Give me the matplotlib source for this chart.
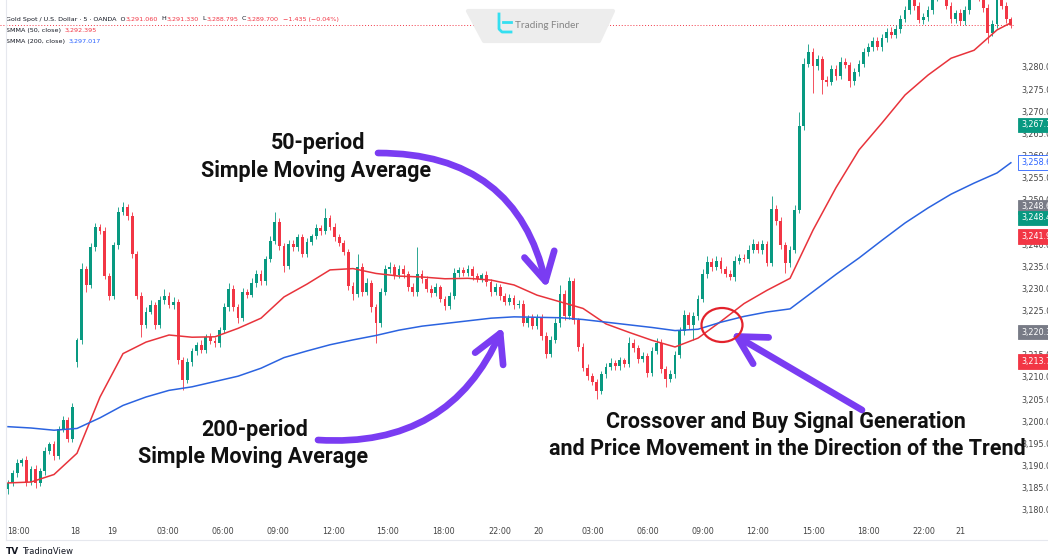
import numpy as np
import matplotlib.pyplot as plt
from matplotlib.patches import FancyArrowPatch, Ellipse, Polygon
from matplotlib.lines import Line2D

# ---------------- data ----------------
first_open = 3185.0
gap_opens = {15: 3213.5}

closes = [
    3186.3, 3188.5, 3190.8, 3191.5, 3186.5, 3189.5, 3186.2, 3189.0, 3193.5, 3195.0,
    3192.3, 3198.5, 3200.5, 3196.2, 3203.5, 3218.5, 3234.5, 3231.0, 3239.5, 3244.0,
    3243.2, 3233.0, 3228.5, 3240.0, 3247.5, 3248.5, 3246.5, 3238.0, 3228.5, 3222.0,
    3225.0, 3226.5, 3222.0, 3227.5, 3228.5, 3226.5, 3227.2, 3214.0, 3209.5, 3213.5,
    3216.0, 3217.5, 3216.3, 3219.3, 3218.4, 3217.8, 3220.8, 3226.0, 3230.2, 3226.0,
    3223.5, 3229.5, 3228.8, 3231.5, 3233.5, 3231.8, 3236.8, 3241.0, 3245.3, 3239.8,
    3235.2, 3240.2, 3239.5, 3241.8, 3238.0, 3240.8, 3242.0, 3243.8, 3243.2, 3246.2,
    3244.0, 3241.8, 3240.5, 3238.5, 3230.8, 3229.0, 3235.0, 3229.5, 3231.5, 3226.0,
    3222.4, 3229.5, 3234.5, 3235.0, 3233.2, 3234.6, 3233.5, 3230.5, 3229.3, 3233.5,
    3232.3, 3230.2, 3229.2, 3230.5, 3227.8, 3226.3, 3228.5, 3233.8, 3234.3, 3233.8,
    3234.5, 3233.0, 3232.4, 3233.2, 3231.6, 3229.4, 3230.5, 3228.5, 3227.2, 3228.0,
    3226.5, 3226.8, 3222.5, 3223.5, 3221.8, 3223.8, 3219.5, 3215.5, 3218.5, 3222.5,
    3229.0, 3224.0, 3231.8, 3223.0, 3217.0, 3212.3, 3210.5, 3209.2, 3207.0, 3210.8,
    3212.5, 3213.4, 3212.6, 3214.0, 3213.2, 3217.8, 3216.8, 3214.2, 3215.0, 3211.2,
    3216.2, 3218.0, 3212.0, 3209.8, 3210.8, 3215.2, 3220.5, 3224.2, 3222.0, 3224.0,
    3227.8, 3233.5, 3236.2, 3235.0, 3236.5, 3234.5, 3233.5, 3232.8, 3236.5, 3237.2,
    3236.8, 3239.0, 3240.2, 3239.0, 3240.3, 3236.0, 3248.2, 3245.5, 3240.0, 3236.0,
    3239.0, 3248.0, 3267.0, 3281.0, 3283.5, 3280.5, 3282.0, 3277.2, 3276.8, 3279.8,
    3278.2, 3281.4, 3280.6, 3277.0, 3279.2, 3281.0, 3283.5, 3284.8, 3286.0, 3284.7,
    3286.8, 3288.2, 3287.5, 3288.8, 3291.0, 3293.0, 3296.5, 3294.0, 3290.8, 3291.5,
    3293.0, 3296.0, 3297.5, 3296.8, 3294.0, 3291.0, 3292.4, 3290.5, 3293.0, 3296.2,
    3297.5, 3296.0, 3293.5, 3288.0, 3290.0, 3296.0, 3294.0, 3291.0, 3289.7]

wick_up = [
    0.6, 0.8, 1.0, 0.5, 0.9, 0.6, 0.8, 0.7, 0.9, 0.6,
    0.8, 0.7, 1.0, 0.6, 0.8, 0.5, 1.5, 0.8, 0.9, 1.0,
    0.7, 0.9, 0.6, 0.8, 1.0, 1.3, 0.7, 0.9, 0.6, 0.8,
    1.0, 1.2, 0.7, 0.9, 1.5, 0.8, 1.0, 0.6, 0.7, 0.9,
    0.8, 0.6, 1.0, 0.7, 0.9, 0.8, 0.6, 1.0, 1.3, 0.7,
    0.8, 0.9, 0.7, 1.0, 0.8, 0.9, 0.7, 1.0, 2.2, 0.8,
    0.6, 0.9, 1.0, 0.7, 0.8, 0.9, 0.6, 1.0, 0.8, 2.2,
    0.7, 0.9, 0.8, 0.6, 0.7, 0.8, 3.0, 0.9, 1.0, 0.7,
    0.6, 0.8, 0.9, 1.2, 0.7, 0.8, 1.0, 0.6, 0.9, 6.0,
    0.8, 0.7, 0.9, 1.0, 0.6, 0.8, 0.9, 1.0, 0.7, 0.8,
    0.9, 0.7, 0.8, 0.6, 0.9, 0.8, 1.0, 0.7, 0.6, 0.9,
    0.8, 0.7, 0.9, 0.8, 1.0, 0.7, 0.6, 0.8, 0.9, 1.0,
    2.0, 0.8, 1.0, 0.7, 0.6, 0.8, 0.9, 0.7, 0.6, 0.8,
    0.9, 1.0, 0.7, 0.8, 0.6, 1.5, 0.9, 0.7, 0.8, 0.6,
    0.9, 1.0, 0.8, 0.7, 0.9, 0.8, 1.0, 1.2, 0.8, 0.9,
    1.0, 1.2, 1.4, 0.9, 1.0, 0.8, 0.7, 0.9, 1.0, 0.8,
    0.9, 1.0, 1.1, 0.8, 0.9, 0.7, 2.8, 0.9, 0.8, 0.7,
    0.9, 1.0, 3.0, 1.2, 2.0, 1.0, 0.9, 0.8, 1.0, 0.9,
    0.8, 1.0, 0.9, 0.7, 0.8, 0.9, 1.0, 0.8, 0.9, 1.0,
    0.8, 0.9, 1.0, 0.8, 1.0, 0.9, 1.2, 0.8, 0.9, 1.0,
    1.1, 0.9, 1.0, 0.8, 0.9, 1.0, 0.8, 0.9, 1.0, 0.9,
    1.0, 0.8, 0.9, 1.0, 0.8, 1.2, 0.9, 0.8, 0.5]

wick_dn = [
    1.3, 0.7, 0.8, 0.6, 0.9, 0.7, 1.0, 0.6, 0.8, 0.7,
    0.9, 0.6, 0.8, 0.7, 0.6, 1.0, 0.8, 1.5, 0.7, 0.9,
    0.8, 0.7, 1.0, 0.6, 0.8, 0.7, 0.9, 0.8, 0.7, 2.7,
    0.8, 0.6, 0.9, 0.7, 0.8, 0.6, 0.9, 0.8, 2.2, 0.7,
    0.8, 0.9, 0.6, 0.7, 0.8, 0.9, 0.7, 0.6, 0.8, 0.9,
    1.0, 0.7, 0.8, 0.6, 0.9, 0.8, 0.7, 0.6, 0.8, 0.9,
    1.2, 0.7, 0.8, 0.9, 0.7, 0.6, 0.8, 0.7, 0.9, 0.8,
    0.7, 0.9, 0.8, 0.7, 0.9, 1.4, 0.8, 0.9, 0.7, 1.0,
    4.4, 0.8, 0.7, 0.9, 0.8, 0.7, 0.9, 0.8, 0.7, 0.9,
    0.8, 0.7, 0.9, 0.8, 0.7, 0.9, 0.8, 0.7, 0.9, 0.8,
    0.7, 0.9, 0.8, 0.7, 0.9, 0.8, 0.7, 0.9, 0.8, 0.7,
    0.9, 0.8, 0.7, 0.9, 0.8, 0.7, 0.9, 1.0, 0.8, 0.7,
    0.9, 0.8, 0.7, 0.9, 0.8, 0.7, 0.9, 0.8, 1.8, 0.7,
    0.9, 0.8, 0.7, 0.9, 0.8, 0.7, 0.9, 0.8, 0.7, 0.9,
    0.8, 0.7, 0.9, 1.8, 0.7, 0.9, 0.8, 0.7, 0.9, 3.4,
    0.8, 0.7, 0.9, 0.8, 0.7, 0.9, 0.8, 0.7, 0.9, 0.8,
    0.7, 0.9, 0.8, 0.7, 0.9, 0.8, 0.7, 0.9, 0.8, 2.3,
    0.9, 0.8, 0.7, 0.9, 0.8, 6.1, 0.9, 3.0, 0.8, 0.7,
    0.9, 0.8, 0.7, 1.3, 0.8, 0.9, 0.7, 0.8, 0.9, 0.7,
    0.8, 0.9, 0.7, 0.8, 0.9, 0.7, 0.8, 0.9, 0.7, 0.8,
    0.9, 0.7, 0.8, 0.9, 0.7, 0.8, 0.9, 0.7, 0.8, 0.9,
    0.7, 0.8, 0.9, 2.4, 0.8, 0.9, 0.7, 0.8, 0.6]

# moving averages, sampled every 5 bars (plus the last bar)
sma_bars = list(range(0, 216, 5)) + [218]
sma50 = [3186.3, 3186.5, 3188.2, 3193.0, 3205.7, 3215.5, 3218.1, 3219.7, 3219.2, 3219.3,
         3221.2, 3223.5, 3228.3, 3231.2, 3234.4, 3234.7, 3233.6, 3233.0, 3232.8, 3232.4,
         3232.5, 3232.1, 3231.0, 3228.7, 3227.2, 3225.7, 3222.2, 3220.3, 3218.5, 3217.0,
         3219.0, 3222.8, 3226.8, 3229.8, 3232.5, 3243.4, 3253.0, 3261.5, 3267.6, 3273.9,
         3278.4, 3282.2, 3284.0, 3288.6, 3290.2]
sma200 = [3199.0, 3198.7, 3198.2, 3198.6, 3201.0, 3203.8, 3205.7, 3207.2, 3208.0, 3209.2,
          3210.4, 3212.2, 3214.6, 3216.1, 3217.5, 3218.6, 3219.6, 3220.8, 3221.7, 3222.3,
          3222.9, 3223.5, 3223.8, 3223.7, 3223.6, 3223.2, 3222.6, 3222.0, 3221.4, 3220.7,
          3221.0, 3222.6, 3223.9, 3224.9, 3225.6, 3229.5, 3233.4, 3237.1, 3241.1, 3245.0,
          3248.4, 3251.5, 3254.0, 3256.3, 3258.6]

tick_bars = [2.2, 14.6, 22.6, 34.8, 46.7, 58.7, 70.7, 82.6, 94.6, 107.0,
             115.2, 127.2, 139.1, 151.1, 163.0, 175.0, 187.0, 199.0, 207.0]
tick_labels = ['18:00', '18', '19', '03:00', '06:00', '09:00', '12:00', '15:00', '18:00', '22:00',
               '20', '03:00', '06:00', '09:00', '12:00', '15:00', '18:00', '22:00', '21']

price_ticks = list(range(3180, 3281, 5))
last_price = 3289.7
# right-scale tags: value, fill, text colour, edge
tags = [(3267.15, '#089981', 'white', '#089981'),
        (3258.64, 'white', '#2962ff', '#2962ff'),
        (3248.64, '#787b86', 'white', '#787b86'),
        (3241.91, '#f23645', 'white', '#f23645'),
        (3220.36, '#787b86', 'white', '#787b86'),
        (3213.72, '#f23645', 'white', '#f23645')]
tag_shifted = (3248.42, '#089981', 'white', '#089981')

GREEN = '#089981'
RED = '#f23645'
PURPLE = '#7a3cf2'
DARK = '#131722'
NARROW = ['Liberation Sans Narrow', 'DejaVu Sans']
BIG = ['Roboto', 'DejaVu Sans']

header = [
    [('Gold Spot / U.S. Dollar · 5 · OANDA  O', DARK), ('3,291.060', RED), ('  H', DARK),
     ('3,291.330', RED), ('  L', DARK), ('3,288.795', RED), ('  C', DARK),
     ('3,289.700', RED), ('  −1.435 (−0.04%)', RED)],
    [('SMMA (50, close)  ', DARK), ('3,292.395', RED)],
    [('SMMA (200, close)  ', DARK), ('3,297.017', '#2962ff')],
]

# ---------------- build candles ----------------
opens = [first_open] + closes[:-1]
for k, v in gap_opens.items():
    opens[k] = v
o = np.array(opens)
c = np.array(closes)
hi = np.maximum(o, c) + np.array(wick_up)
lo = np.minimum(o, c) - np.array(wick_dn)
x = np.arange(len(c))
cols = np.where(c >= o, GREEN, RED)

W, H = 1048, 554
fig = plt.figure(figsize=(W / 100, H / 100), dpi=100)


def fx(px):
    return px / W


def fy(py):
    return 1 - py / H


ax = fig.add_axes([0, fy(521), fx(1015), 521 / H])
ax.set_xlim(-1.74, 218.9)
ax.set_ylim(3177.7, 3295.35)
for s in ax.spines.values():
    s.set_visible(False)

ax.vlines(x, lo, hi, colors=cols, lw=0.6, zorder=2)
ax.bar(x, np.maximum(np.abs(c - o), 0.15), bottom=np.minimum(o, c), width=0.62,
       color=cols, lw=0, zorder=3)

ax.plot(sma_bars, sma50, color='#e8333b', lw=1.1, zorder=4)
ax.plot(sma_bars, sma200, color='#2b63e0', lw=1.1, zorder=4)
ax.axhline(last_price, color=RED, lw=0.7, ls=(0, (1, 2)), zorder=1)

ax.set_xticks(tick_bars, tick_labels)
ax.set_yticks([])
ax.tick_params(axis='x', length=0, pad=4, labelsize=5.8, labelcolor='#444444')
for lab in ax.get_xticklabels():
    lab.set_family(NARROW)

ytr = ax.get_yaxis_transform()
for p in price_ticks:
    ax.text(1.006, p, f'{p:,.2f}', transform=ytr, ha='left', va='center',
            fontsize=5.8, color='#444444', family=NARROW)
for val, fc, tc, ec in tags:
    ax.text(1.006, val, f'{val:,.2f}', transform=ytr, ha='left', va='center',
            fontsize=5.8, color=tc, family=NARROW, zorder=6,
            bbox=dict(boxstyle='square,pad=0.35', fc=fc, ec=ec, lw=0.6))
val, fc, tc, ec = tag_shifted
ax.annotate(f'{val:,.2f}', xy=(1.006, val), xycoords=ytr, xytext=(0, -10),
            textcoords='offset pixels', ha='left', va='center', fontsize=5.8, color=tc,
            family=NARROW, zorder=6, annotation_clip=False,
            bbox=dict(boxstyle='square,pad=0.35', fc=fc, ec=ec, lw=0.6))

# frame lines of the TradingView pane
fig.add_artist(Line2D([fx(6), fx(6)], [fy(0), fy(540)], color='#e6e8ee', lw=0.8))
fig.add_artist(Line2D([fx(6), 1], [fy(540), fy(540)], color='#e6e8ee', lw=0.8))

# ---------------- header legend (segments chained one after another) ----------------
for row, ypx in zip(header, [19, 30.5, 41]):
    t = ax.annotate(row[0][0], xy=(fx(6), fy(ypx)), xycoords='figure fraction',
                    color=row[0][1], fontsize=4.6, family=NARROW, va='center', ha='left',
                    annotation_clip=False)
    for seg, col in row[1:]:
        t = ax.annotate(seg, xy=(1, 0), xycoords=t, color=col, fontsize=4.6,
                        family=NARROW, va='bottom', ha='left', annotation_clip=False)

# ---------------- watermark ----------------
fig.add_artist(Polygon([(fx(468), fy(11)), (fx(613), fy(11)), (fx(599), fy(41)), (fx(484), fy(41))],
                       closed=True, fc='#ededed', ec='#ededed', lw=3, joinstyle='round',
                       transform=fig.transFigure))
fig.add_artist(Line2D([fx(499), fx(499), fx(502), fx(511)], [fy(14), fy(29), fy(32), fy(32)],
                      color='#34dff0', lw=2.0, solid_joinstyle='round'))
fig.add_artist(Line2D([fx(503), fx(511)], [fy(22), fy(22)], color='#34dff0', lw=2.0))
fig.text(fx(515), fy(25), 'Trading Finder', fontsize=7.2, color='#858585',
         va='center', ha='left', family=['Lato', 'DejaVu Sans'])

# TradingView mark at the bottom
fig.text(fx(6), fy(551), 'TV', fontsize=6.5, weight='bold', color=DARK, va='center')
fig.text(fx(22), fy(551), 'TradingView', fontsize=6, color=DARK, va='center')

# ---------------- annotations ----------------
txt = dict(fontsize=15.5, color='#111111', family=BIG, weight='semibold', ha='center', va='center')
fig.text(fx(318), fy(143), '50-period', **txt)
fig.text(fx(316), fy(171), 'Simple Moving Average', **txt)
fig.text(fx(255), fy(430), '200-period', **txt)
fig.text(fx(253), fy(457), 'Simple Moving Average', **txt)
fig.text(fx(786), fy(422), 'Crossover and Buy Signal Generation', **txt)
fig.text(fx(787), fy(449), 'and Price Movement in the Direction of the Trend', **txt)

astyle = '->,head_length=20,head_width=11'
for a, b, rad in [((378, 153), (547, 288), -0.4),
                  ((318, 440), (503, 327), 0.35),
                  ((862, 410), (731, 333), 0.0)]:
    fig.add_artist(FancyArrowPatch((fx(a[0]), fy(a[1])), (fx(b[0]), fy(b[1])),
                                   transform=fig.transFigure,
                                   connectionstyle=f'arc3,rad={rad}', arrowstyle=astyle,
                                   lw=4.8, color=PURPLE, capstyle='round', joinstyle='round',
                                   mutation_scale=1, shrinkA=0, shrinkB=0))

fig.add_artist(Ellipse((fx(722), fy(325)), fx(41), 34 / H, transform=fig.transFigure,
                       fill=False, ec='#e3222c', lw=1.6))

fig.savefig('out.png', dpi=100)
